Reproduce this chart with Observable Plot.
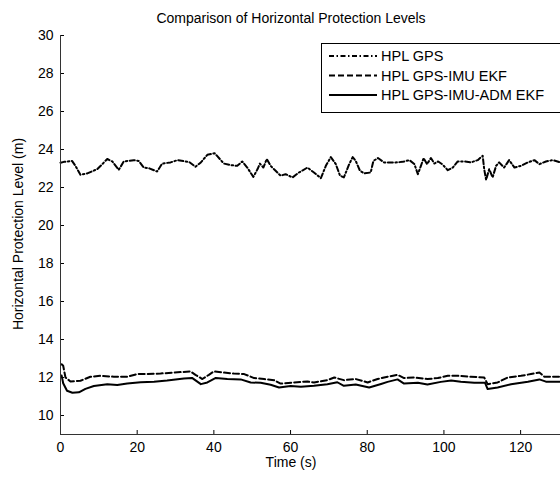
<!DOCTYPE html>
<html><head><meta charset="utf-8">
<script src="https://cdn.jsdelivr.net/npm/d3@7"></script>
<script src="https://cdn.jsdelivr.net/npm/@observablehq/plot@0.6"></script>
<style>body{margin:0;background:#fff} svg{display:block}</style>
</head><body><div id="chart"></div>
<script>
const xTicks = [0, 20, 40, 60, 80, 100, 120];
const yTicks = [10, 12, 14, 16, 18, 20, 22, 24, 26, 28, 30];
const seriesNames = ["HPL GPS", "HPL GPS-IMU EKF", "HPL GPS-IMU-ADM EKF"];

// [time (s), HPL (m)]
const hplGPS = [[0,23.3],[0.9,23.35],[3,23.4],[3.9,23.14],[5.2,22.67],[7,22.74],[9.6,22.97],[10.9,23.23],[12.2,23.5],[13.5,23.37],[15.2,22.93],[16.5,23.37],[19.1,23.44],[20.4,23.4],[21.7,23.05],[23,23.02],[25.2,22.84],[26.5,23.26],[28.7,23.32],[30.5,23.44],[32.6,23.37],[33.5,23.35],[35.2,23.09],[36.6,23.32],[38.3,23.72],[40.2,23.8],[40.9,23.65],[42.6,23.26],[44.4,23.18],[46.1,23.14],[47.4,23.37],[48.7,23.05],[50.3,22.56],[51.4,22.97],[52,23.26],[52.9,23.05],[53.8,23.5],[54.8,23.14],[56.1,22.88],[57.4,22.62],[58.7,22.7],[60.5,22.53],[62.2,22.79],[64.4,23.05],[66.1,22.79],[67.9,22.49],[69.2,23.14],[70.5,23.6],[71.8,23.23],[72.9,22.62],[73.9,22.53],[75.3,23.23],[76.2,23.6],[77,23.4],[78.1,22.88],[79.2,22.74],[80.9,22.79],[81.6,23.4],[82.8,23.55],[84.4,23.32],[85.7,23.32],[87.5,23.32],[89.2,23.35],[91,23.44],[92.3,23.23],[93.2,22.7],[94,23.14],[94.7,23.55],[95.6,23.23],[96.6,23.55],[97.5,23.26],[98.5,23.37],[99.7,23.2],[101,22.91],[102.3,23.05],[103.6,23.37],[105.3,23.37],[107,23.32],[108.8,23.44],[110.1,23.67],[110.5,22.97],[111,22.4],[111.8,22.97],[112.7,22.53],[113.6,23.14],[114.4,23.32],[115.7,23.05],[117,23.44],[118.4,23.05],[120.1,23.14],[121.9,23.32],[123.6,23.44],[124.9,23.23],[126.6,23.37],[128.4,23.44],[130.4,23.32]];

const hplEKF = [[0.3,12.7],[0.7,12.62],[1.3,12.0],[2.6,11.79],[5.2,11.83],[7.8,12.04],[10.4,12.09],[13.9,12.04],[17.4,12.04],[20,12.18],[22.6,12.18],[26.1,12.21],[29.6,12.26],[33.9,12.32],[35.2,12.14],[37,11.92],[38.7,12.14],[40,12.32],[42.6,12.26],[45.2,12.21],[47.9,12.18],[50.5,11.97],[53.1,11.92],[55.7,11.86],[57.4,11.68],[60.9,11.74],[64.4,11.79],[66.1,11.74],[69.6,11.86],[71.4,12.0],[73.9,11.86],[77,11.92],[80.1,11.74],[82.7,11.92],[85.3,12.04],[87.9,12.14],[89.6,11.97],[92.2,12.0],[95.7,11.92],[98.4,11.97],[101,12.09],[103.6,12.09],[107,12.04],[110.5,12.0],[111.4,11.65],[114,11.74],[116.6,12.0],[120.1,12.09],[122.7,12.18],[124.9,12.26],[126.2,12.04],[130.4,12.04]];

const hplADM = [[0.3,12.1],[0.7,11.7],[1.7,11.3],[3.1,11.2],[4.8,11.22],[6.5,11.4],[8.7,11.55],[12.2,11.65],[14.8,11.6],[17.4,11.68],[20.9,11.75],[24.4,11.78],[27.8,11.84],[32.2,11.95],[34.3,11.98],[36.6,11.65],[38.3,11.74],[40.5,11.98],[43.5,11.92],[47,11.9],[49.6,11.74],[52.2,11.72],[54.8,11.62],[57,11.47],[60,11.55],[62.7,11.51],[66.1,11.56],[69.6,11.65],[72.2,11.75],[73.9,11.56],[77,11.63],[80.5,11.47],[83.6,11.66],[85.3,11.77],[87.9,11.9],[89.6,11.68],[93.2,11.72],[95.7,11.63],[99.2,11.77],[101.9,11.84],[104.4,11.78],[107.9,11.73],[110.7,11.73],[111.4,11.39],[114,11.47],[117.5,11.64],[121.9,11.78],[124.9,11.9],[126.6,11.78],[130.4,11.78]];

const dashes = ["5,2.5,1.5,2.5", "6,3", null];
const font = "'Liberation Sans', Arial, sans-serif";

const chart = Plot.plot({
  width: 560, height: 477,
  marginLeft: 60, marginRight: 0, marginTop: 35, marginBottom: 43,
  style: {fontFamily: font, fontSize: "14px", background: "#fff", color: "#000"},
  x: {domain: [0, 130.4]},
  y: {domain: [9, 30]},
  marks: [
    Plot.axisX(xTicks, {tickSize: 0, tickPadding: 8, label: null, fontSize: 14}),
    Plot.axisY(yTicks, {tickSize: 0, tickPadding: 7, label: null, fontSize: 14}),
    Plot.ruleX(xTicks, {x: d => d, y1: 9, y2: 9 + 4 / 19, stroke: "#000"}),
    Plot.ruleY(yTicks, {y: d => d, x1: 0, x2: 4 / 3.833, stroke: "#000"}),
    Plot.line(hplGPS, {x: d => d[0], y: d => d[1], stroke: "#000", strokeWidth: 2, strokeDasharray: dashes[0]}),
    Plot.line(hplEKF, {x: d => d[0], y: d => d[1], stroke: "#000", strokeWidth: 2, strokeDasharray: dashes[1]}),
    Plot.line(hplADM, {x: d => d[0], y: d => d[1], stroke: "#000", strokeWidth: 2}),
    Plot.ruleX([0], {y1: 9, y2: 30, stroke: "#333"}),
    Plot.ruleY([9], {x1: 0, x2: 130.4, stroke: "#333"})
  ]
});

const svg = d3.select(chart);
svg.append("text").attr("x", 291).attr("y", 23).attr("text-anchor", "middle")
  .attr("font-family", font).attr("font-size", 14).attr("fill", "#000")
  .text("Comparison of Horizontal Protection Levels");
svg.append("text").attr("x", 291).attr("y", 467).attr("text-anchor", "middle")
  .attr("font-family", font).attr("font-size", 14).attr("fill", "#000")
  .text("Time (s)");
svg.append("text").attr("transform", "translate(23,234) rotate(-90)").attr("text-anchor", "middle")
  .attr("font-family", font).attr("font-size", 14).attr("fill", "#000")
  .text("Horizontal Protection Level (m)");

const lg = svg.append("g");
lg.append("rect").attr("x", 321.5).attr("y", 43.5).attr("width", 260).attr("height", 69)
  .attr("fill", "#fff").attr("stroke", "#000");
seriesNames.forEach((name, i) => {
  const y = 56 + i * 19.5;
  const l = lg.append("line").attr("x1", 329).attr("x2", 377).attr("y1", y).attr("y2", y)
    .attr("stroke", "#000").attr("stroke-width", 2);
  if (dashes[i]) l.attr("stroke-dasharray", dashes[i]);
  lg.append("text").attr("x", 381).attr("y", y + 5).attr("text-anchor", "start").attr("font-family", font)
    .attr("font-size", 14.5).attr("fill", "#000").text(name);
});

document.getElementById("chart").appendChild(chart);
</script>
</body></html>
